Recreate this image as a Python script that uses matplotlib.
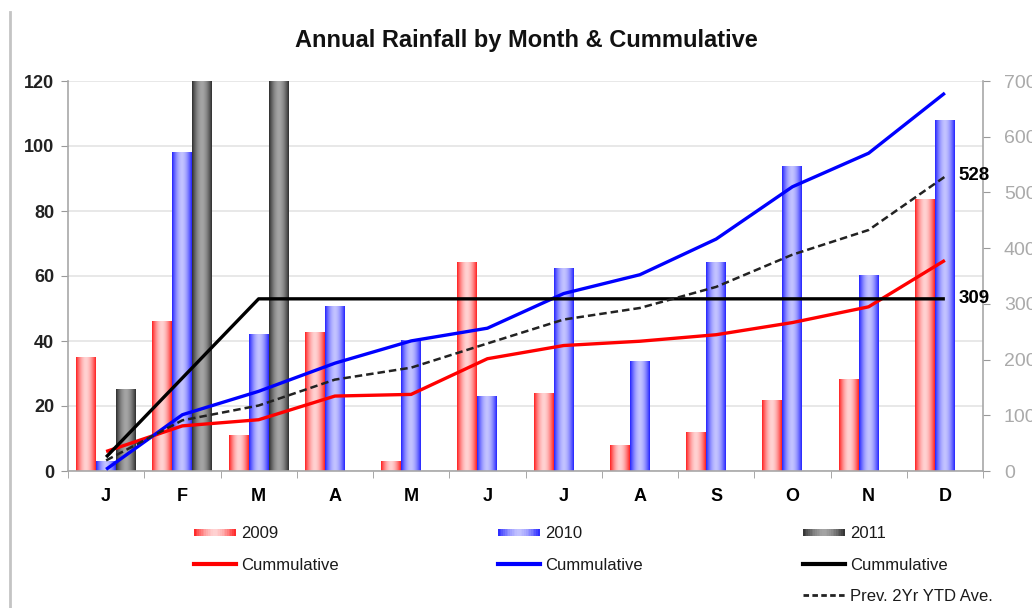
import numpy as np
import matplotlib
matplotlib.use("Agg")
import matplotlib.pyplot as plt
from matplotlib.colors import LinearSegmentedColormap, to_rgb
from matplotlib.patches import Rectangle
from matplotlib.lines import Line2D
from matplotlib.legend_handler import HandlerBase

plt.rcParams['font.family'] = ['Liberation Sans', 'DejaVu Sans']

months = ['J', 'F', 'M', 'A', 'M', 'J', 'J', 'A', 'S', 'O', 'N', 'D']
rain_2009 = [35, 46, 11, 42.5, 3, 64, 23.7, 7.7, 11.7, 21.8, 28.3, 83.4]
rain_2010 = [3, 98, 42, 50.5, 40, 22.8, 62.2, 33.8, 64, 93.8, 60.3, 108]
rain_2011 = [25, 142, 142, np.nan, np.nan, np.nan, np.nan, np.nan, np.nan, np.nan, np.nan, np.nan]

cum_2009 = np.cumsum(rain_2009)
cum_2010 = np.cumsum(rain_2010)
cum_2011 = np.cumsum(np.nan_to_num(rain_2011))
prev_avg = (cum_2009 + cum_2010) / 2

fig = plt.figure(figsize=(10.32, 6.08), dpi=100)
ax = fig.add_axes([68/1032, 1-471/608, (983-68)/1032, (471-81)/608])
ax2 = ax.twinx()

x = np.arange(len(months))
bw = 0.262

def grad_cmap(edge, center):
    return LinearSegmentedColormap.from_list('g', [center, edge])

prof = np.abs(np.linspace(-1, 1, 64)) ** 1.8
prof = prof[np.newaxis, :]

series = [
    (rain_2009, -bw, '#ff2020', '#ffd2d2'),
    (rain_2010, 0.0, '#2424ff', '#c2c2ff'),
    (rain_2011, bw, '#2e2e2e', '#a4a4a4'),
]
for vals, off, edge, center in series:
    bars = ax.bar(x + off, vals, width=bw, facecolor='none', edgecolor='none', zorder=2)
    cmap = grad_cmap(edge, center)
    for rect in bars:
        h = rect.get_height()
        if not np.isfinite(h) or h == 0:
            continue
        x0 = rect.get_x()
        w = rect.get_width()
        ax.imshow(prof, cmap=cmap, vmin=0, vmax=1, extent=[x0, x0 + w, 0, h],
                  aspect='auto', origin='lower', interpolation='bilinear', zorder=2)

ax.set_xlim(-0.5, 11.5)
ax.set_ylim(0, 120)
ax.set_yticks(np.arange(0, 121, 20))
ax.yaxis.grid(True, color='#e4e4e4', lw=1.2, zorder=0)
ax.set_axisbelow(True)
ax.set_xticks(x)
ax.set_xticklabels(months, fontsize=13, fontweight='bold')
ax.set_xticks(np.arange(-0.5, 12, 1), minor=True)
ax.tick_params(axis='x', which='major', length=0, pad=12)
ax.tick_params(axis='x', which='minor', length=5, color='#999999', direction='out')
ax.tick_params(axis='y', length=5, color='#999999', labelsize=13, labelcolor='#222222', pad=5)
for lab in ax.get_yticklabels():
    lab.set_fontweight('bold')
for s in ['top', 'right']:
    ax.spines[s].set_visible(False)
for s in ['left', 'bottom']:
    ax.spines[s].set_color('#a8a8a8')
    ax.spines[s].set_linewidth(1.2)

ax2.plot(x, cum_2009, color='#ff0000', lw=2.4, zorder=5, solid_capstyle='butt')
ax2.plot(x, cum_2010, color='#0000ff', lw=2.4, zorder=5, solid_capstyle='butt')
ax2.plot(x, cum_2011, color='#000000', lw=2.4, zorder=5, solid_capstyle='butt')
ax2.plot(x, prev_avg, color='#222222', lw=1.8, ls=(0, (3, 1.6)), zorder=6)
ax2.set_ylim(0, 700)
ax2.set_yticks(np.arange(0, 701, 100))
ax2.tick_params(axis='y', length=5, color='#999999', labelsize=14, labelcolor='#aaaaaa', pad=10)
for s in ['top', 'left', 'bottom']:
    ax2.spines[s].set_visible(False)
ax2.spines['right'].set_color('#a8a8a8')
ax2.spines['right'].set_linewidth(1.2)

ax2.annotate(f"{prev_avg[-1]:.0f}", xy=(x[-1], prev_avg[-1]), xytext=(10, 1),
             textcoords='offset points', va='center', ha='left', fontsize=13.5, fontweight='bold')
ax2.annotate(f"{cum_2011[-1]:.0f}", xy=(x[-1], cum_2011[-1]), xytext=(10, 0),
             textcoords='offset points', va='center', ha='left', fontsize=13.5, fontweight='bold')

fig.text(526/1032, 1-41/608, 'Annual Rainfall by Month & Cummulative', ha='center', va='center',
         fontsize=17, fontweight='bold', color='#111111')

# frame line at left
fig.add_artist(Line2D([10/1032, 10/1032], [0, 1-12/608], color='#c4c4c4', lw=2, transform=fig.transFigure))


class GradHandler(HandlerBase):
    def __init__(self, edge, center):
        super().__init__()
        self.edge = np.array(to_rgb(edge))
        self.center = np.array(to_rgb(center))

    def create_artists(self, legend, orig_handle, xdescent, ydescent, width, height, fontsize, trans):
        arts = []
        n = 24
        for i in range(n):
            t = (i + 0.5) / n
            v = abs(2 * t - 1) ** 1.6
            c = self.center + (self.edge - self.center) * v
            r = Rectangle((-xdescent + i * width / n, -ydescent + height * 0.2), width / n + 0.3,
                          height * 0.6, facecolor=c, edgecolor='none', transform=trans)
            arts.append(r)
        return arts


p09 = Rectangle((0, 0), 1, 1)
p10 = Rectangle((0, 0), 1, 1)
p11 = Rectangle((0, 0), 1, 1)
hmap = {p09: GradHandler('#ff2020', '#ffd2d2'),
        p10: GradHandler('#2424ff', '#c2c2ff'),
        p11: GradHandler('#2e2e2e', '#a4a4a4')}

leg_cols = [
    (194, [p09, Line2D([], [], color='#ff0000', lw=3)], ['2009', 'Cummulative']),
    (498, [p10, Line2D([], [], color='#0000ff', lw=3)], ['2010', 'Cummulative']),
    (803, [p11, Line2D([], [], color='#000000', lw=3),
           Line2D([], [], color='#222222', lw=2, ls=(0, (2, 1.2)))],
     ['2011', 'Cummulative', 'Prev. 2Yr YTD Ave.']),
]
for xpix, hs, ls in leg_cols:
    lg = fig.legend(hs, ls, handler_map=hmap, loc='upper left',
                    bbox_to_anchor=(xpix/1032, 1-526/608), frameon=False,
                    prop={'size': 12}, handlelength=2.5, handleheight=0.8,
                    handletextpad=0.3, labelspacing=0.98, borderpad=0, borderaxespad=0)
    for t in lg.get_texts():
        t.set_color('#1a1a1a')

fig.savefig('out.png', dpi=100)
